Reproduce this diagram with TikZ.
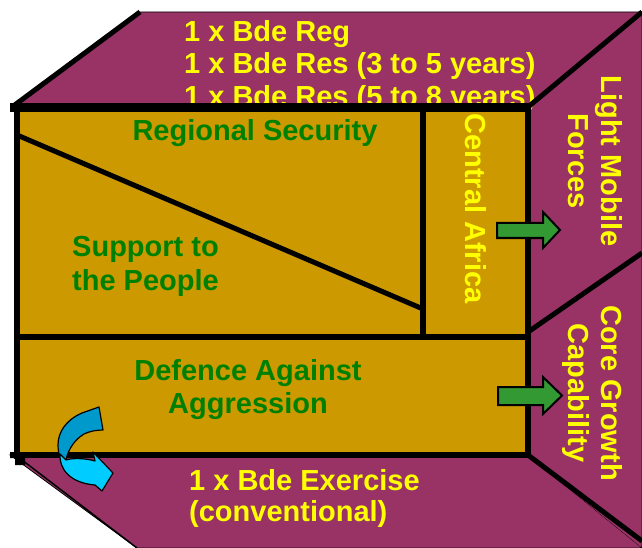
\documentclass[tikz,border=0pt]{standalone}
\usepackage{fontspec}
\setmainfont{Liberation Sans}
\definecolor{boxpurple}{HTML}{993366}
\definecolor{boxgold}{HTML}{CC9900}
\definecolor{labelgreen}{HTML}{008000}
\definecolor{labelyellow}{HTML}{FFFF00}
\definecolor{arrowgreen}{HTML}{339933}
\definecolor{cyanlight}{HTML}{00CCFF}
\definecolor{cyandark}{HTML}{0099CC}
\begin{document}
\begin{tikzpicture}[x=1bp,y=1bp,
  face/.style={fill=boxpurple,draw=black,line width=0.8bp},
  boxedge/.style={line width=5bp},
  divider/.style={line width=5.5bp},
  labeltext/.style={font=\fontsize{29bp}{#1}\selectfont\bfseries,inner sep=0pt},
  labeltext/.default=33bp,
  sidetext/.style={labeltext,text=labelyellow,align=center,rotate=-90,anchor=north},
  fronttext/.style={labeltext=#1,text=labelgreen},
  fronttext/.default=33bp,
  blockarrow/.style={fill=arrowgreen,draw=black,line width=2bp,line join=miter},
  ribbon/.style={draw=black,line width=1.2bp,line join=round}
]
% canvas
\useasboundingbox (0,0) rectangle (642,-548);
\fill[white] (0,0) rectangle (642,-548);

% purple faces: top, right, bottom
\path[face] (12,-107) -- (140,-12) -- (642,-12) -- (642,-107) -- (528,-107) -- cycle;
\path[face] (528,-107) -- (642,-12) -- (642,-548) -- (528,-455) -- cycle;
\path[face] (10,-455) -- (528,-455) -- (642,-548) -- (137,-548) -- cycle;
\fill[boxpurple] (530,-105) -- (641,-13) -- (641,-547) -- (530,-457) -- cycle;
\fill[boxpurple] (14,-457) -- (528,-457) -- (640,-547) -- (139,-547) -- cycle;

% text on the top face
\node[labeltext=32.5bp,text=labelyellow,align=left,anchor=north west] (topnote) at (184,-20.2)
  {1 x Bde Reg\\1 x Bde Res (3 to 5 years)\\1 x Bde Res (5 to 8 years)};

% box edges
\draw[boxedge] (12,-107) -- (140,-12);
\draw[boxedge] (528,-107) -- (642,-12);
\draw[boxedge] (528,-332) -- (642,-253);
\draw[boxedge] (528,-455) -- (642,-541);
\draw[line width=1.5bp] (22,-460) -- (137,-548);

% front face
\path[fill=boxgold,draw=black,divider] (17,-107.5) rectangle (528,-455);
\draw[line width=9bp] (10,-107.5) -- (530.5,-107.5);
\draw[divider] (10,-455) -- (528,-455);
\fill (10,-452) -- (25,-452) -- (25,-465) -- (15,-465) -- (15,-458) -- (10,-458) -- cycle;
\draw[divider] (423,-107) -- (423,-337);
\draw[divider] (17,-337) -- (528,-337);
\draw[line width=5bp] (17,-135) -- (423,-309);

% labels on the front face
\node[fronttext,anchor=base] (regional) at (255,-140.7) {Regional Security};
\node[fronttext=34bp,align=left,anchor=north west] (support) at (72,-236.2) {Support to\\the People};
\node[fronttext=32.7bp,align=center,anchor=north] (defence) at (248,-359.5) {Defence Against\\Aggression};
\node[labeltext,text=labelyellow,rotate=-90,anchor=base] (central) at (465,-208.5) {Central Africa};

% green block arrows
\draw[blockarrow] (497,-223) -- (543,-223) -- (543,-212) -- (560,-230) -- (543,-248) -- (543,-238) -- (497,-238) -- cycle;
\draw[blockarrow] (498,-387) -- (543,-387) -- (543,-377) -- (562,-395.5) -- (543,-414) -- (543,-405) -- (498,-405) -- cycle;

% curved cyan arrow
\path[ribbon,fill=cyandark] (99,-407) -- (82,-413)
  .. controls (66,-420) and (58,-432) .. (58,-445)
  .. controls (58,-451) and (59,-455) .. (61,-458) -- (66,-460)
  .. controls (68,-450) and (74,-440) .. (84,-434)
  .. controls (90,-431) and (97,-430) .. (103,-430) -- cycle;
\path[ribbon,fill=cyanlight] (60,-454)
  .. controls (59,-469) and (70,-483) .. (95,-485)
  -- (102,-491) -- (113,-473) -- (93,-452) -- (95,-461)
  .. controls (85,-458) and (72,-458) .. (66,-460) -- cycle;

% labels on the side faces
\node[sidetext] (lightmobile) at (622.5,-161) {Light Mobile\\Forces};
\node[sidetext] (coregrowth) at (622.5,-393) {Core Growth\\Capability};
\node[labeltext=31.5bp,text=labelyellow,align=left,anchor=north west] (exercise) at (189,-469.1)
  {1 x Bde Exercise\\(conventional)};
\end{tikzpicture}
\end{document}
